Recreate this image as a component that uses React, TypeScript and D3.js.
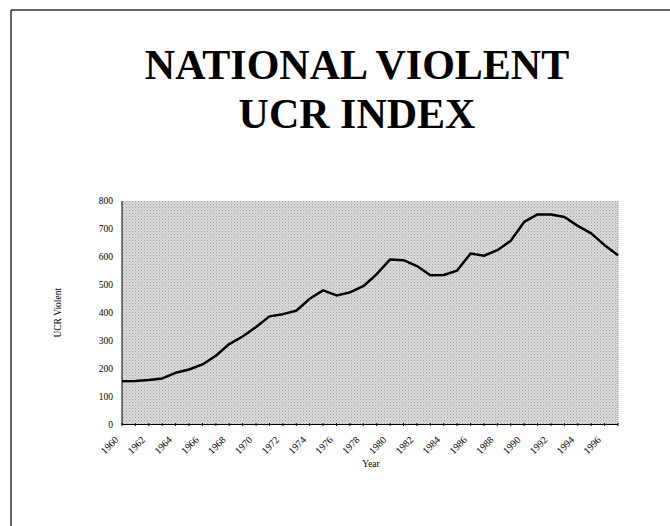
import React from "react";
import * as d3 from "d3";

const years: number[] = [
  1960, 1961, 1962, 1963, 1964, 1965, 1966, 1967, 1968, 1969,
  1970, 1971, 1972, 1973, 1974, 1975, 1976, 1977, 1978, 1979,
  1980, 1981, 1982, 1983, 1984, 1985, 1986, 1987, 1988, 1989,
  1990, 1991, 1992, 1993, 1994, 1995, 1996, 1997,
];
const ucrViolent: number[] = [
  155, 156, 159, 165, 185, 197, 215, 246, 288, 315,
  349, 387, 395, 407, 450, 480, 462, 473, 495, 538,
  591, 588, 567, 534, 535, 551, 612, 604, 624, 658,
  725, 752, 752, 743, 711, 684, 642, 606,
];
const yTicks: number[] = [0, 100, 200, 300, 400, 500, 600, 700, 800];
const xLabelYears: number[] = years.filter((y) => (y - 1960) % 2 === 0 && y <= 1996);
const titleLines: string[] = ["NATIONAL VIOLENT", "UCR INDEX"];

const W = 670;
const H = 526;
const plot = { left: 122, right: 618, top: 201, bottom: 424.5 };

export default function App() {
  const x = d3.scaleLinear().domain([1960, 1997]).range([plot.left, plot.right]);
  const y = d3.scaleLinear().domain([0, 800]).range([plot.bottom, plot.top]);
  const line = d3
    .line<number>()
    .x((_, i) => x(years[i]))
    .y((d) => y(d))
    .curve(d3.curveLinear);

  const serif = "'Liberation Serif', 'Times New Roman', serif";

  return (
    <svg
      width={W}
      height={H}
      style={{ position: "absolute", left: 0, top: 0, background: "#fff" }}
    >
      <defs>
        <pattern id="dots" width="3" height="3" patternUnits="userSpaceOnUse">
          <rect width="3" height="3" fill="#dadada" />
          <rect x="0" y="0" width="1" height="1" fill="#a2a2a2" />
          <rect x="1.5" y="1.5" width="1" height="1" fill="#b6b6b6" />
        </pattern>
      </defs>
      {/* slide frame */}
      <line x1={11} y1={10} x2={670} y2={10} stroke="#333" strokeWidth={1.5} />
      <line x1={11} y1={10} x2={11} y2={526} stroke="#333" strokeWidth={1.5} />

      {/* title */}
      {titleLines.map((t, i) => (
        <text
          key={t}
          x={357}
          y={79 + i * 49}
          textAnchor="middle"
          fontFamily={serif}
          fontWeight="bold"
          fontSize={42}
          fill="#000"
        >
          {t}
        </text>
      ))}

      {/* plot area */}
      <rect
        x={plot.left}
        y={plot.top}
        width={plot.right - plot.left}
        height={plot.bottom - plot.top}
        fill="url(#dots)"
      />
      <line
        x1={plot.right}
        y1={plot.top}
        x2={plot.right}
        y2={plot.bottom}
        stroke="#777"
        strokeWidth={0.8}
        strokeDasharray="1,1"
      />
      {/* axes */}
      <line x1={plot.left} y1={plot.top} x2={plot.left} y2={plot.bottom} stroke="#000" strokeWidth={1} />
      <line x1={plot.left} y1={plot.bottom} x2={plot.right} y2={plot.bottom} stroke="#000" strokeWidth={1} />
      {years.map((yr) => (
        <line
          key={yr}
          x1={x(yr)}
          x2={x(yr)}
          y1={plot.bottom - 1.5}
          y2={plot.bottom + 1.5}
          stroke="#000"
          strokeWidth={1}
        />
      ))}
      {yTicks.map((v) => (
        <text
          key={v}
          x={113}
          y={y(v) + 3}
          textAnchor="end"
          fontFamily={serif}
          fontSize={9.5}
          fill="#000"
        >
          {v}
        </text>
      ))}
      {xLabelYears.map((yr) => (
        <text
          key={yr}
          transform={`translate(${x(yr) - 3},${plot.bottom + 16}) rotate(-45)`}
          textAnchor="end"
          fontFamily={serif}
          fontSize={10}
          fill="#000"
        >
          {yr}
        </text>
      ))}
      <text x={371} y={467} textAnchor="middle" fontFamily={serif} fontSize={9.5} fill="#000">
        Year
      </text>
      <text
        transform={`translate(61,${(plot.top + plot.bottom) / 2}) rotate(-90)`}
        textAnchor="middle"
        fontFamily={serif}
        fontSize={9.5}
        fill="#000"
      >
        UCR Violent
      </text>

      {/* data line */}
      <path d={line(ucrViolent) || ""} fill="none" stroke="#000" strokeWidth={2.5} strokeLinejoin="round" />
    </svg>
  );
}
